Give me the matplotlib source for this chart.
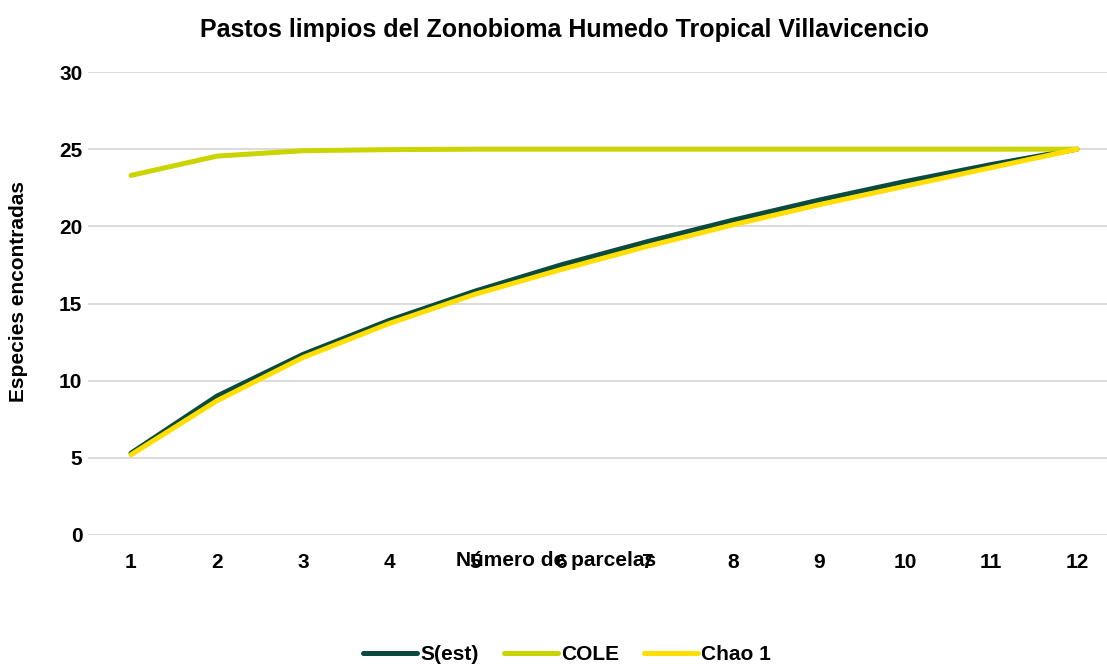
import matplotlib
matplotlib.use('Agg')
import matplotlib.pyplot as plt

plt.rcParams['font.family'] = ['Liberation Sans', 'DejaVu Sans']
plt.rcParams['font.weight'] = 'bold'

parcelas = [1, 2, 3, 4, 5, 6, 7, 8, 9, 10, 11, 12]
s_est = [5.3, 9.0, 11.7, 13.9, 15.8, 17.5, 19.0, 20.4, 21.7, 22.9, 24.0, 25.0]
cole = [23.3, 24.55, 24.9, 24.97, 25.0, 25.0, 25.0, 25.0, 25.0, 25.0, 25.0, 25.0]
chao1 = [5.2, 8.7, 11.5, 13.7, 15.6, 17.2, 18.7, 20.1, 21.4, 22.6, 23.8, 25.0]

fig = plt.figure(figsize=(11.07, 6.65), dpi=100)
ax = fig.add_axes([88 / 1107, 1 - 535 / 665, 1032 / 1107, 463 / 665])

series = [('S(est)', s_est, '#0B4A3E'), ('COLE', cole, '#CAD400'), ('Chao 1', chao1, '#FFDE00')]
for nombre, vals, col in series:
    ax.plot(parcelas, vals, color=col, lw=3.6, solid_capstyle='round',
            solid_joinstyle='round', label=nombre)

ax.set_xlim(0.5, 12.5)
ax.set_ylim(0, 30)
ax.set_yticks(range(0, 31, 5))
ax.set_xticks(parcelas)
ax.grid(axis='y', color='#D9D9D9', lw=1.3)
ax.set_axisbelow(True)
for s in ax.spines.values():
    s.set_visible(False)
ax.tick_params(length=0, labelsize=15)
ax.tick_params(axis='x', pad=13)
ax.tick_params(axis='y', pad=4)
for lab in ax.get_xticklabels() + ax.get_yticklabels():
    lab.set_fontweight('bold')

# el titulo del eje x queda a la altura de las etiquetas de categoria
ax.set_xlabel('Número de parcelas', fontsize=15, fontweight='bold')
ax.xaxis.set_label_coords((556 - 88) / 1032, -25 / 463)
ax.xaxis.label.set_va('center')
ax.set_ylabel('Especies encontradas', fontsize=15, fontweight='bold')
ax.yaxis.set_label_coords(-70 / 1032, (535 - 292) / 463)
ax.yaxis.label.set_va('center')

fig.text(565 / 1107, 1 - 30 / 665, 'Pastos limpios del Zonobioma Humedo Tropical Villavicencio',
         ha='center', va='center', fontsize=18, fontweight='bold')

fig.legend(loc='center', bbox_to_anchor=(567 / 1107, 1 - 655 / 665), ncol=3,
           frameon=False, fontsize=15, handlelength=2.6, handletextpad=0.15,
           columnspacing=1.2)

fig.savefig('out.png', dpi=100)
